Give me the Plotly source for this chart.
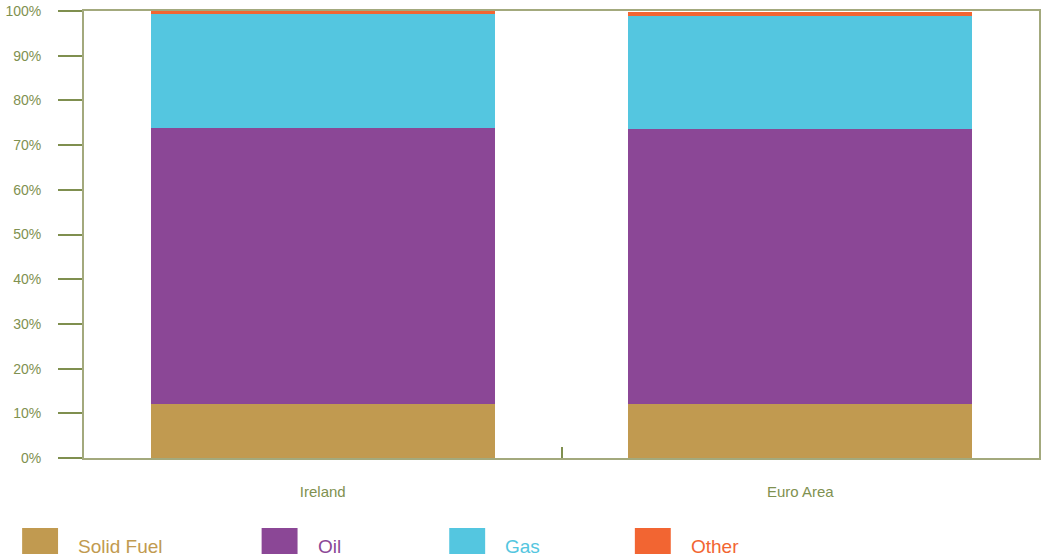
import plotly.graph_objects as go

categories = ["Ireland", "Euro Area"]
series_names = ["Solid Fuel", "Oil", "Gas", "Other"]
solid_fuel = [12.1, 12.1]
oil = [61.7, 61.4]
gas = [25.5, 25.3]
other = [0.7, 1.0]
series_values = [solid_fuel, oil, gas, other]
colors = ["#c19a50", "#8b4796", "#54c6e0", "#f26532"]
y_tick_vals = [0, 10, 20, 30, 40, 50, 60, 70, 80, 90, 100]
y_tick_text = [f"{v}%" for v in y_tick_vals]

font_family = "Liberation Sans, Arial, sans-serif"
text_col = "#7f9150"
frame_col = "#a3a97d"
axis_col = "#7f8f4f"

fig = go.Figure()
for name, vals, col in zip(series_names, series_values, colors):
    fig.add_trace(go.Bar(x=categories, y=vals, name=name, marker=dict(color=col, line=dict(width=0)),
                         showlegend=False))

# manual legend (pixel positions converted to paper coords)
L, T, PW, PH = 84, 11, 957, 447
def px(x):
    return (x - L) / PW
def py(y):
    return (T + PH - y) / PH

leg_x = [22, 262, 450, 636]
shapes = []
annotations = []
for name, col, lx in zip(series_names, colors, leg_x):
    shapes.append(dict(type="rect", xref="paper", yref="paper",
                       x0=px(lx), x1=px(lx + 36), y0=py(554), y1=py(528),
                       fillcolor=col, line=dict(width=0)))
    annotations.append(dict(text=name, xref="paper", yref="paper",
                            x=px(lx + 54), y=py(559),
                            xanchor="left", yanchor="bottom", showarrow=False,
                            font=dict(family=font_family, size=19, color=col)))

fig.update_layout(
    width=1043, height=560,
    margin=dict(l=L, r=2, t=T, b=560 - T - PH),
    paper_bgcolor="white", plot_bgcolor="white",
    barmode="stack", bargap=0.28,
    shapes=shapes, annotations=annotations,
    font=dict(family=font_family, color=text_col),
)
fig.update_yaxes(range=[0, 100], tickvals=y_tick_vals, ticktext=y_tick_text,
                 ticks="outside", ticklen=24, tickcolor=axis_col, tickwidth=1.5,
                 showgrid=False, showline=True, linecolor=frame_col, linewidth=2,
                 mirror=True, zeroline=False, ticklabelstandoff=14,
                 tickfont=dict(family=font_family, size=14, color=text_col))
fig.update_xaxes(ticks="inside", tickson="boundaries", ticklen=11, tickcolor=axis_col,
                 tickwidth=1.5, showline=True, linecolor=frame_col, linewidth=2, mirror=True,
                 showgrid=False, ticklabelstandoff=19,
                 tickfont=dict(family=font_family, size=15, color=text_col))

fig.write_html("out.html")
